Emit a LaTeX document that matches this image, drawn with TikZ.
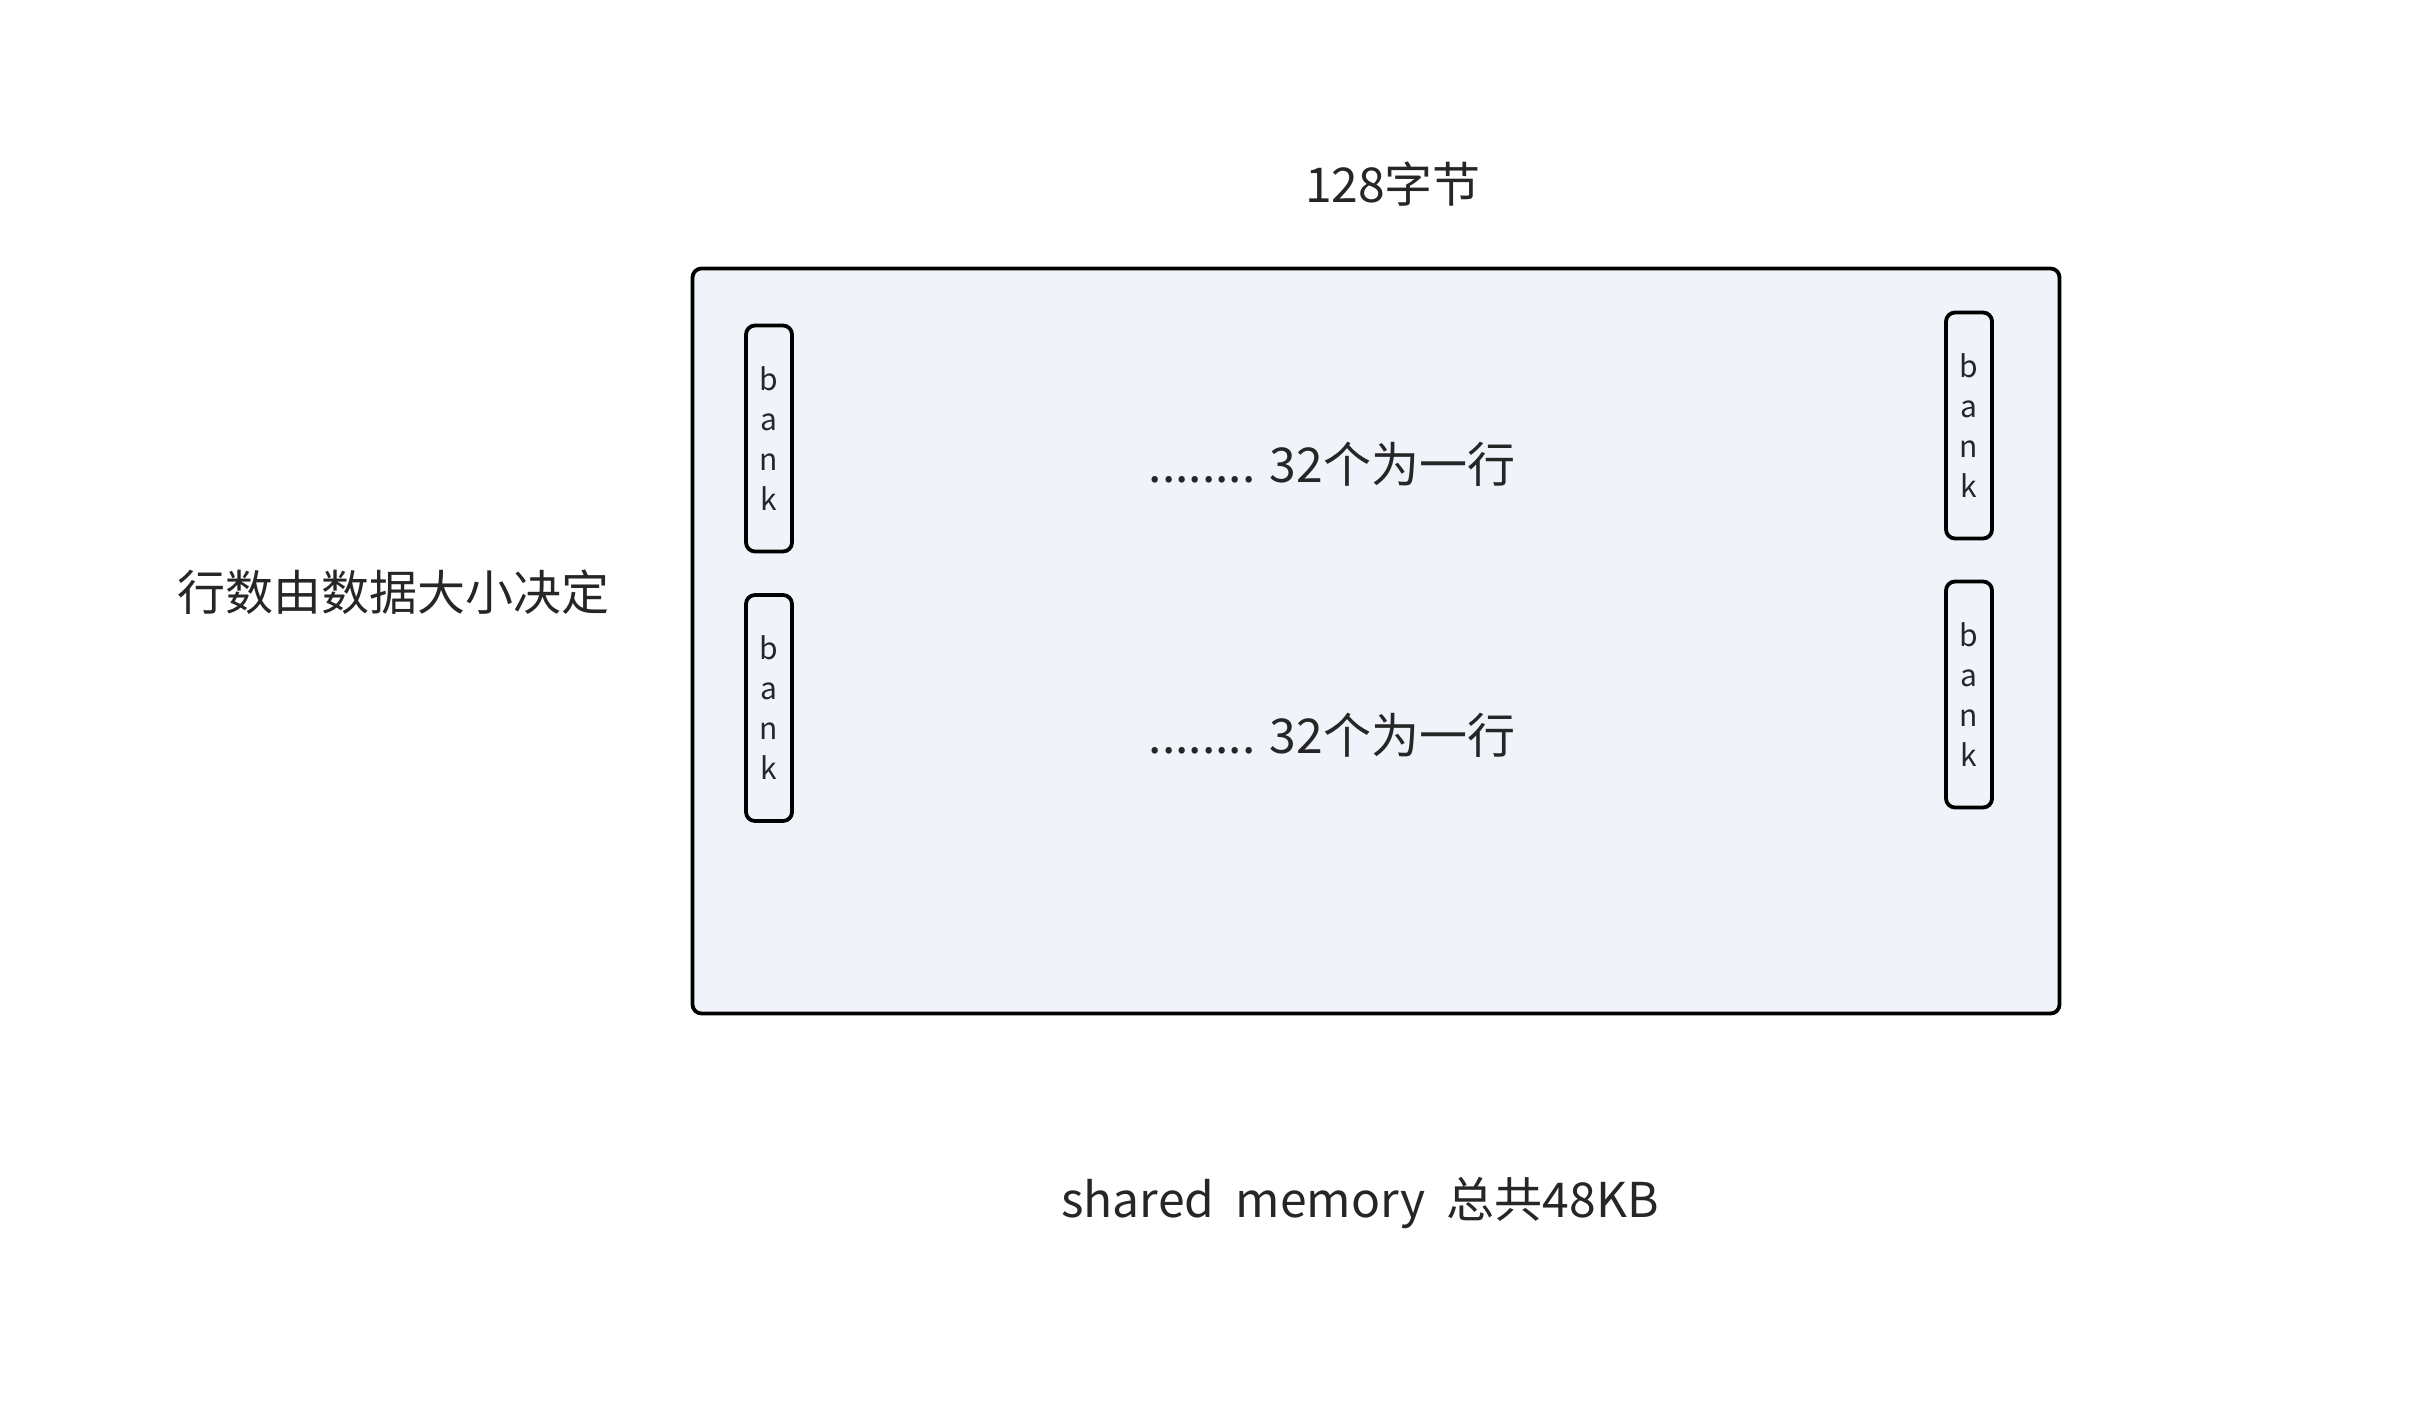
\documentclass[tikz,border=0pt]{standalone}
\usepackage{fontspec}
\setmainfont{Noto Sans CJK SC}
\begin{document}
\begin{tikzpicture}[x=1pt,y=-1pt,
  txt/.style={text=textgray, inner sep=0pt, anchor=base, font=\fontsize{48}{58}\selectfont},
  bankbox/.style={draw=black, line width=3.8pt, rounded corners=9pt, fill=memfill,
    minimum width=46pt, minimum height=226pt, inner sep=0pt, align=center,
    text=textgray, font=\fontsize{30}{40}\selectfont},
  membox/.style={draw=black, line width=3.8pt, rounded corners=9pt, fill=memfill}
]
\definecolor{memfill}{RGB}{240,243,250}
\definecolor{textgray}{RGB}{38,38,38}
\useasboundingbox (0,0) rectangle (2416,1424);
\fill[white] (0,0) rectangle (2416,1424);
\node[membox, minimum width=1367pt, minimum height=745pt, inner sep=0pt] (mem) at (1376,641) {};
\node[bankbox] (b1) at (769,438.5) {b\\a\\n\\k};
\node[bankbox] (b2) at (769,708) {b\\a\\n\\k};
\node[bankbox] (b3) at (1969,425.5) {b\\a\\n\\k};
\node[bankbox] (b4) at (1969,694.5) {b\\a\\n\\k};
\node[txt] (title) at (1393,202) {128字节};
\node[txt] (row1) at (1332,482) {........ 32个为一行};
\node[txt] (row2) at (1332,753) {........ 32个为一行};
\node[txt] (rows) at (393,610) {行数由数据大小决定};
\node[txt] (total) at (1360,1217) {shared\ \ memory\ \ 总共48KB};
\end{tikzpicture}
\end{document}
